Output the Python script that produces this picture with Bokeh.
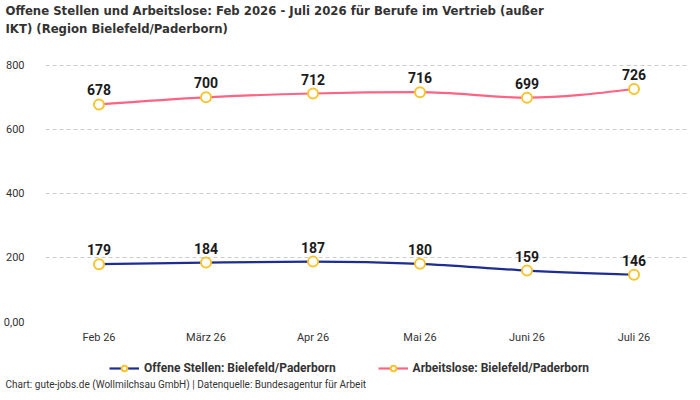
from bokeh.plotting import figure
from bokeh.layouts import column
from bokeh.models import Title, Legend, LegendItem, FixedTicker, ColumnDataSource
from bokeh.embed import file_html
from bokeh.resources import INLINE

# ---- data ----
months = ["Feb 26", "März 26", "Apr 26", "Mai 26", "Juni 26", "Juli 26"]
offene = [179, 184, 187, 180, 159, 146]
arbeitslose = [678, 700, 712, 716, 699, 726]
y_ticks = [0, 200, 400, 600, 800]
y_tick_labels = ["0,00", "200", "400", "600", "800"]
series_names = ["Offene Stellen: Bielefeld/Paderborn", "Arbeitslose: Bielefeld/Paderborn"]
footer_text = "Chart: gute-jobs.de (Wollmilchsau GmbH) | Datenquelle: Bundesagentur für Arbeit"

TFONT = "DejaVu Sans Condensed"
FONT = "Roboto"
TXT = "#333333"
NAVY = "#1e2d91"
PINK = "#ff6384"
MARK = "#f7c530"


def monotone_beziers(xs, ys):
    n = len(xs)
    h = [xs[i + 1] - xs[i] for i in range(n - 1)]
    s = [(ys[i + 1] - ys[i]) / h[i] for i in range(n - 1)]
    t = [0.0] * n

    def sign(v):
        return (v > 0) - (v < 0)

    for i in range(1, n - 1):
        p_ = (s[i - 1] * h[i] + s[i] * h[i - 1]) / (h[i - 1] + h[i])
        t[i] = (sign(s[i - 1]) + sign(s[i])) * min(abs(s[i - 1]), abs(s[i]), 0.5 * abs(p_))
    t[0] = (3 * s[0] - t[1]) / 2
    t[-1] = (3 * s[-1] - t[-2]) / 2
    d = dict(x0=[], y0=[], x1=[], y1=[], cx0=[], cy0=[], cx1=[], cy1=[])
    for i in range(n - 1):
        dx = h[i] / 3
        d["x0"].append(xs[i]); d["y0"].append(ys[i])
        d["x1"].append(xs[i + 1]); d["y1"].append(ys[i + 1])
        d["cx0"].append(xs[i] + dx); d["cy0"].append(ys[i] + dx * t[i])
        d["cx1"].append(xs[i + 1] - dx); d["cy1"].append(ys[i + 1] - dx * t[i + 1])
    return d


xs = list(range(len(months)))

p = figure(frame_width=642, frame_height=285, output_backend="svg", toolbar_location=None,
           x_range=(-0.5, len(months) - 0.5), y_range=(0, 890),
           min_border_left=40, min_border_right=2, min_border_top=0, min_border_bottom=26)
p.outline_line_color = None
p.background_fill_color = "white"

# titles (added bottom line first)
for line in ["IKT) (Region Bielefeld/Paderborn)",
             "Offene Stellen und Arbeitslose: Feb 2026 - Juli 2026 für Berufe im Vertrieb (außer"]:
    t = Title(text=line, align="left", text_font=TFONT, text_font_size="13px",
              text_font_style="bold", text_color=TXT, offset=-40, standoff=1)
    p.add_layout(t, "above")

# grid / axes
p.xgrid.grid_line_color = None
p.ygrid.grid_line_color = "#cccccc"
p.ygrid.grid_line_dash = "4 3"
p.ygrid.ticker = FixedTicker(ticks=y_ticks)

p.yaxis.ticker = FixedTicker(ticks=y_ticks)
p.yaxis.major_label_overrides = {v: l for v, l in zip(y_ticks, y_tick_labels)}
p.xaxis.ticker = FixedTicker(ticks=xs)
p.xaxis.major_label_overrides = {i: m for i, m in enumerate(months)}
for ax in (p.xaxis, p.yaxis):
    ax.axis_line_color = None
    ax.major_tick_line_color = None
    ax.minor_tick_line_color = None
    ax.major_label_text_font = FONT
    ax.major_label_text_font_size = "11px"
    ax.major_label_text_color = TXT
p.yaxis.major_label_standoff = 15
p.xaxis.major_label_standoff = 3

colors = [NAVY, PINK]
for vals, col in [(offene, NAVY), (arbeitslose, PINK)]:
    p.bezier(source=ColumnDataSource(monotone_beziers(xs, vals)),
             x0="x0", y0="y0", x1="x1", y1="y1", cx0="cx0", cy0="cy0",
             cx1="cx1", cy1="cy1", line_color=col, line_width=2.2)
    src = ColumnDataSource(dict(x=xs, y=vals, lab=[str(v) for v in vals]))
    p.scatter("x", "y", source=src, size=10, marker="circle",
              fill_color="white", line_color=MARK, line_width=2)
    p.text("x", "y", text="lab", source=src, text_align="center",
           text_baseline="bottom", y_offset=-9, text_font={"value": FONT},
           text_font_size="14px", text_font_style="bold", text_color="#1a1a1a")

# ---- legend + footer strip ----
q = figure(frame_width=642, frame_height=28, output_backend="svg", toolbar_location=None,
           x_range=(0, 642), y_range=(0, 28), x_axis_location=None, y_axis_location=None,
           min_border_left=40, min_border_right=2, min_border_top=0, min_border_bottom=0)
q.outline_line_color = None
q.grid.visible = False
items = []
for name, col in zip(series_names, colors):
    off = ColumnDataSource(dict(x=[-1000], y=[-1000]))
    r1 = q.line("x", "y", source=off, line_color=col, line_width=2.2)
    r2 = q.scatter("x", "y", source=off, size=10, marker="circle",
                   fill_color="white", line_color=MARK, line_width=2)
    items.append(LegendItem(label=name, renderers=[r1, r2]))
legend = Legend(items=items, orientation="horizontal", location=(95, 0),
                glyph_width=30, glyph_height=14, label_text_font=FONT,
                label_text_font_size="12px", label_text_font_style="bold",
                label_text_color=TXT, spacing=42, border_line_color=None,
                padding=2, margin=0, background_fill_alpha=0)
q.add_layout(legend, "center")
q.add_layout(Title(text=footer_text, align="left", text_font=FONT, text_font_size="10px",
                   text_font_style="normal", text_color=TXT, offset=-40, standoff=2),
             "below")

layout = column(p, q, spacing=0)
open("out.html", "w").write(file_html(layout, INLINE))
